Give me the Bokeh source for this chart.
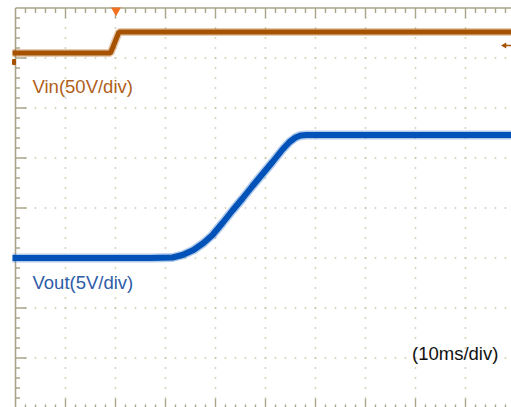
import numpy as np
from bokeh.plotting import figure
from bokeh.models import Range1d
from bokeh.core.properties import value
from bokeh.embed import file_html
from bokeh.resources import INLINE

# ---- data (time in ms, 10 ms/div; screen divisions 0..8) ----
vin_t = [-0.6, 19.0, 20.7, 99.2]          # ms
vin_v = [5.0, 5.0, 26.0, 26.0]            # V (50 V/div)
VIN_ZERO_DIV = 7.0
VIN_V_PER_DIV = 50.0

vout_t = [-0.6, 27.0, 31.4, 33.4, 35.6, 37.6, 39.4, 41.4, 43.4, 45.4,
          47.4, 49.4, 51.4, 53.4, 54.8, 56.0, 57.0, 58.2, 99.2]
vout_v = [0.0, 0.0, 0.05, 0.3, 0.8, 1.5, 2.3, 3.5, 4.75, 5.95,
          7.2, 8.4, 9.6, 10.85, 11.6, 12.05, 12.25, 12.3, 12.3]   # V (5 V/div)
VOUT_ZERO_DIV = 3.0
VOUT_V_PER_DIV = 5.0

labels = ["Vin(50V/div)", "Vout(5V/div)", "(10ms/div)"]
trigger_t = 20.1

MS_PER_DIV = 10.0
N_HDIV = 10
N_VDIV = 8

ORANGE = "#A65200"
BLUE = "#0052B8"
FRAME = "#A8A48A"
DOT = "#C9C5A6"

vin_div = [VIN_ZERO_DIV + v / VIN_V_PER_DIV for v in vin_v]
vout_div = [VOUT_ZERO_DIV + v / VOUT_V_PER_DIV for v in vout_v]

p = figure(width=511, height=407, output_backend="svg", toolbar_location=None,
           x_range=Range1d(-3.0, 99.2), y_range=Range1d(0.01, 8.15),
           min_border=0, min_border_left=0, min_border_right=0,
           min_border_top=0, min_border_bottom=0)
p.axis.visible = False
p.grid.visible = False
p.outline_line_color = None
p.background_fill_color = "white"
p.border_fill_color = "white"

# dotted graticule
xs_minor = np.arange(2, N_HDIV * MS_PER_DIV + 0.01, 2.0)
ys_minor = np.arange(0.2, N_VDIV, 0.2)
dx, dy = [], []
for j in range(1, N_VDIV):
    for x in xs_minor:
        dx.append(x); dy.append(j)
for i in range(1, N_HDIV):
    for y in ys_minor:
        dx.append(i * MS_PER_DIV); dy.append(y)
p.scatter(dx, dy, marker="square", size=1.6, color=DOT, line_color=None)

# frame lines
TOP = 8.0
p.segment(x0=[0, 0], y0=[0, TOP], x1=[0, 100], y1=[TOP, TOP], line_color=FRAME, line_width=1.6)
# left ticks
lt = np.arange(0.2, N_VDIV, 0.2)
lmaj = np.abs(lt - np.round(lt)) < 1e-6
p.segment(x0=np.zeros(len(lt)), y0=lt, x1=np.where(lmaj, 2.2, 0.9), y1=lt,
          line_color=FRAME, line_width=1.4)
# top ticks
tt = np.arange(2, 100.01, 2.0)
tmaj = np.abs(tt / 10 - np.round(tt / 10)) < 1e-6
p.segment(x0=tt, y0=np.full(len(tt), TOP), x1=tt, y1=TOP - np.where(tmaj, 0.2, 0.1),
          line_color=FRAME, line_width=1.4)
# bottom ticks
p.segment(x0=tt, y0=np.zeros(len(tt)), x1=tt, y1=np.where(tmaj, 0.18, 0.07),
          line_color=FRAME, line_width=1.4)

# traces
p.line(vin_t, vin_div, line_color=ORANGE, line_width=8, line_alpha=0.3)
p.line(vin_t, vin_div, line_color=ORANGE, line_width=5)
p.line(vout_t, vout_div, line_color=BLUE, line_width=9, line_alpha=0.3)
p.line(vout_t, vout_div, line_color=BLUE, line_width=6)

# channel / trigger markers
p.quad(left=[-0.6], right=[0.0], bottom=[6.87], top=[6.97], color=ORANGE)
p.scatter([trigger_t], [7.95], marker="inverted_triangle", size=10, color="#F07020", line_color=None)
p.segment(x0=[97.9], y0=[7.25], x1=[99.2], y1=[7.25], line_color=ORANGE, line_width=1.5)
p.scatter([97.8], [7.25], marker="triangle", angle=np.pi / 2, size=6, color=ORANGE, line_color=None)

# labels
FS = "18.5px"
p.text(x=[3.4], y=[6.44], text=[labels[0]], text_font=value("Liberation Sans"),
       text_font_size=FS, text_color="#B0601A", text_baseline="alphabetic")
p.text(x=[3.4], y=[2.51], text=[labels[1]], text_font=value("Liberation Sans"),
       text_font_size=FS, text_color="#2D5CA8", text_baseline="alphabetic")
p.text(x=[79.3], y=[1.10], text=[labels[2]], text_font=value("Liberation Sans"),
       text_font_size=FS, text_color="#111111", text_baseline="alphabetic")

open("out.html", "w").write(file_html(p, INLINE))
